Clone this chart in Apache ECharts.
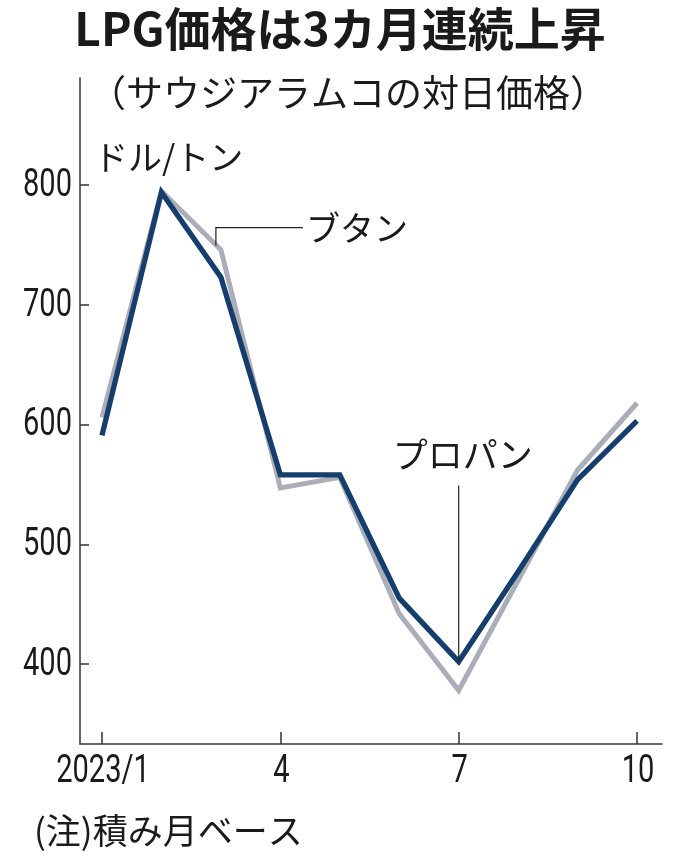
<!DOCTYPE html>
<html>
<head>
<meta charset="utf-8">
<script src="https://cdn.jsdelivr.net/npm/echarts@6/dist/echarts.min.js"></script>
<style>
html,body{margin:0;padding:0;background:#fff;}
#c{width:680px;height:862px;}
</style>
</head>
<body>
<div id="c"></div>
<script>
const months = [1, 2, 3, 4, 5, 6, 7, 8, 9, 10];
const propane = [591, 794, 723, 558, 558, 455, 402, 477, 554, 603];
const butane = [606, 795, 746, 547, 556, 442, 378, 470, 562, 618];
const xTicks = [1, 4, 7, 10];
const xTickLabels = ['2023/1', '4', '7', '10'];
const yTicks = [400, 500, 600, 700, 800];
const yTickLabels = ['400', '500', '600', '700', '800'];

const title = 'LPG価格は3カ月連続上昇';
const subtitle = '（サウジアラムコの対日価格）';
const unitLabel = 'ドル/トン';
const butaneLabel = 'ブタン';
const propaneLabel = 'プロパン';
const note = '(注)積み月ベース';

const JP = '"Noto Sans CJK JP", "Noto Sans", sans-serif';
const NUM = 'Roboto, "Liberation Sans", sans-serif';
const NAVY = '#163e6d';
const GRAY = '#abaeb8';
const AXIS = '#333333';
const TXT = '#1a1a1a';

const chart = echarts.init(document.getElementById('c'), null, {renderer: 'canvas'});

const pair = arr => months.map((m, i) => [m, arr[i]]);

chart.setOption({
  animation: false,
  backgroundColor: '#ffffff',
  grid: {left: 80, right: 18, top: 78, bottom: 118, containLabel: false},
  xAxis: {
    type: 'value',
    min: 0.63,
    max: 10.42,
    splitLine: {show: false},
    axisLine: {show: true, lineStyle: {color: AXIS, width: 1.5}},
    axisTick: {show: true, inside: true, length: 12, customValues: xTicks, lineStyle: {color: AXIS, width: 1.5}},
    axisLabel: {show: false, customValues: xTicks}
  },
  yAxis: {
    type: 'value',
    min: 333.2,
    max: 889.4,
    splitLine: {show: false},
    axisLine: {show: true, lineStyle: {color: AXIS, width: 1.5}},
    axisTick: {show: true, inside: true, length: 9, customValues: yTicks, lineStyle: {color: AXIS, width: 1.5}},
    axisLabel: {show: false, customValues: yTicks}
  },
  series: [
    {
      name: butaneLabel, type: 'line', data: pair(butane), symbol: 'none', z: 2,
      lineStyle: {color: GRAY, width: 5, join: 'miter'}
    },
    {
      name: propaneLabel, type: 'line', data: pair(propane), symbol: 'none', z: 3,
      lineStyle: {color: NAVY, width: 5.3, join: 'miter'}
    }
  ]
});

const bMar = chart.convertToPixel({gridIndex: 0}, [months[2], butane[2]]);
const pJul = chart.convertToPixel({gridIndex: 0}, [months[6], propane[6]]);

const numFont = '39px ' + NUM;
const SX = 0.745;

const axisTexts = [];
yTicks.forEach((v, i) => {
  const p = chart.convertToPixel({gridIndex: 0}, [0.63, v]);
  axisTexts.push({
    type: 'text', x: p[0] - 8, y: p[1] + 1, scaleX: SX,
    style: {text: yTickLabels[i], font: numFont, fill: TXT, align: 'right', verticalAlign: 'middle'}
  });
});
xTicks.forEach((v, i) => {
  const p = chart.convertToPixel({gridIndex: 0}, [v, 333.2]);
  axisTexts.push({
    type: 'text', x: p[0] + 1, y: p[1] + 28, scaleX: SX,
    style: {text: xTickLabels[i], font: numFont, fill: TXT, align: 'center', verticalAlign: 'middle'}
  });
});

chart.setOption({
  graphic: axisTexts.concat([
    {type: 'text', left: 'center', top: 6, style: {text: title, font: 'bold 46px ' + JP, fill: TXT}},
    {type: 'text', x: 348, y: 93, style: {text: subtitle, font: '37px ' + JP, fill: TXT, align: 'center', verticalAlign: 'middle'}},
    {type: 'text', x: 94, y: 157, style: {text: unitLabel, font: '34px ' + JP, fill: TXT, align: 'left', verticalAlign: 'middle'}},
    {type: 'polyline', shape: {points: [[bMar[0] - 5, bMar[1] - 4], [bMar[0] - 5, bMar[1] - 22], [bMar[0] + 82, bMar[1] - 22]]},
      style: {stroke: '#222', lineWidth: 1.2, fill: null}, z: 10},
    {type: 'text', x: bMar[0] + 85, y: bMar[1] - 22, style: {text: butaneLabel, font: '34px ' + JP, fill: TXT, align: 'left', verticalAlign: 'middle'}},
    {type: 'line', shape: {x1: pJul[0], y1: pJul[1] - 176, x2: pJul[0], y2: pJul[1]},
      style: {stroke: '#222', lineWidth: 1.2}, z: 10},
    {type: 'text', x: pJul[0] + 4, y: pJul[1] - 207, style: {text: propaneLabel, font: '35px ' + JP, fill: TXT, align: 'center', verticalAlign: 'middle'}},
    {type: 'text', x: 34, y: 831, style: {text: note, font: '35px ' + JP, fill: TXT, align: 'left', verticalAlign: 'middle'}}
  ])
});
</script>
</body>
</html>
